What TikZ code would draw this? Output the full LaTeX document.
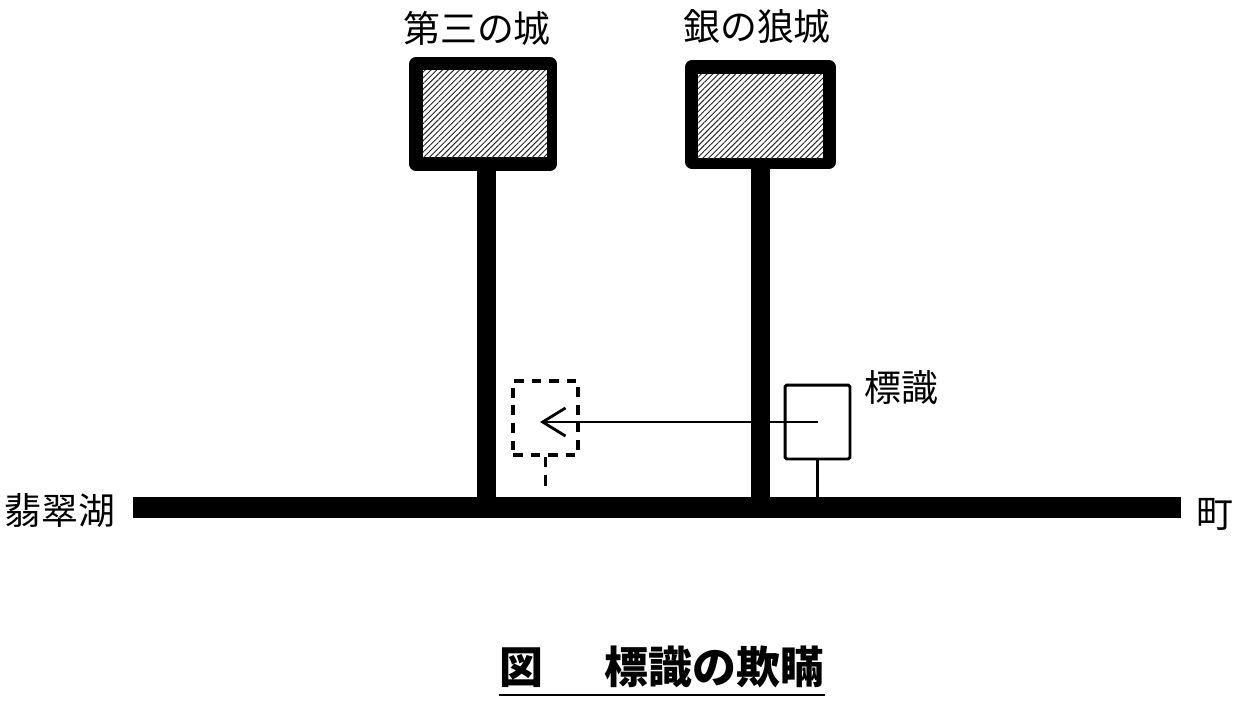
\documentclass[tikz,border=0pt]{standalone}
\usepackage{fontspec}
\newfontfamily\jp{Noto Sans CJK JP}
\usetikzlibrary{patterns.meta,arrows.meta}
\begin{document}
\begin{tikzpicture}[x=0.02cm,y=-0.02cm,
  frame/.style={fill=black, rounded corners=4pt, inner sep=0pt},
  hatch/.style={inner sep=0pt, preaction={fill=white},
    pattern={Lines[angle=45,distance=2.3pt,line width=0.55pt]}, pattern color=black!85},
  pole/.style={line width=11.3pt},
  smallsign/.style={draw, line width=1.7pt, rounded corners=1pt, minimum width=1.3cm, minimum height=1.48cm, inner sep=0pt},
  ghostsign/.style={draw, line width=1.9pt, dash pattern=on 5.5pt off 4.5pt, minimum width=1.3cm, minimum height=1.48cm, inner sep=0pt},
  label/.style={font=\jp\fontsize{21}{21}\selectfont, inner sep=0pt},
  caption/.style={font=\jp\bfseries\fontsize{25}{26}\selectfont, inner sep=0pt}]
\useasboundingbox (0,0) rectangle (1241,701);
% road
\node[fill=black, inner sep=0pt, minimum width=20.96cm, minimum height=0.42cm] (road) at (657,507.5) {};
% signs
\node[frame, minimum width=2.96cm, minimum height=2.28cm] (sign1) at (483,114) {};
\node[hatch, minimum width=2.48cm, minimum height=1.74cm] (face1) at (485,113.5) {};
\node[frame, minimum width=3.02cm, minimum height=2.18cm] (sign2) at (760.5,114.5) {};
\node[hatch, minimum width=2.5cm, minimum height=1.68cm] (face2) at (760.5,116) {};
% poles
\draw[pole] ([xshift=2pt]sign1.south) -- ([xshift=2pt]sign1.south |- road.north);
\draw[pole] (sign2.south) -- (sign2.south |- road.north);
% small sign
\node[smallsign] (small) at (817.5,422) {};
\draw[line width=1.7pt] (small.south) -- (small.south |- road.north);
% ghost sign
\node[ghostsign] (ghost) at (545.5,418) {};
\coordinate (ghoststem) at (545.5,490);
\draw[line width=1.9pt, dash pattern=on 6pt off 4.5pt] (ghost.south) -- (ghoststem);
\coordinate (ghosttip) at (540,422);
\draw[line width=1.6pt, -{Straight Barb[length=13pt,width=16pt]}] (small.center) -- (ghosttip);
% labels
\node[label] (lab1) at (477,28) {第三の城};
\node[label] (lab2) at (757,27) {銀の狼城};
\node[label] (lab3) at (901,388) {標識};
\node[label] (lake) at (60,510) {翡翠湖};
\node[label] (town) at (1215,514) {町};
% caption
\node[caption] (cap) at (662,667) {図\hspace{1.4em}標識の欺瞞};
\draw[line width=1.2pt] ([yshift=-4pt]cap.south west) -- ([yshift=-4pt]cap.south east);
\end{tikzpicture}
\end{document}
